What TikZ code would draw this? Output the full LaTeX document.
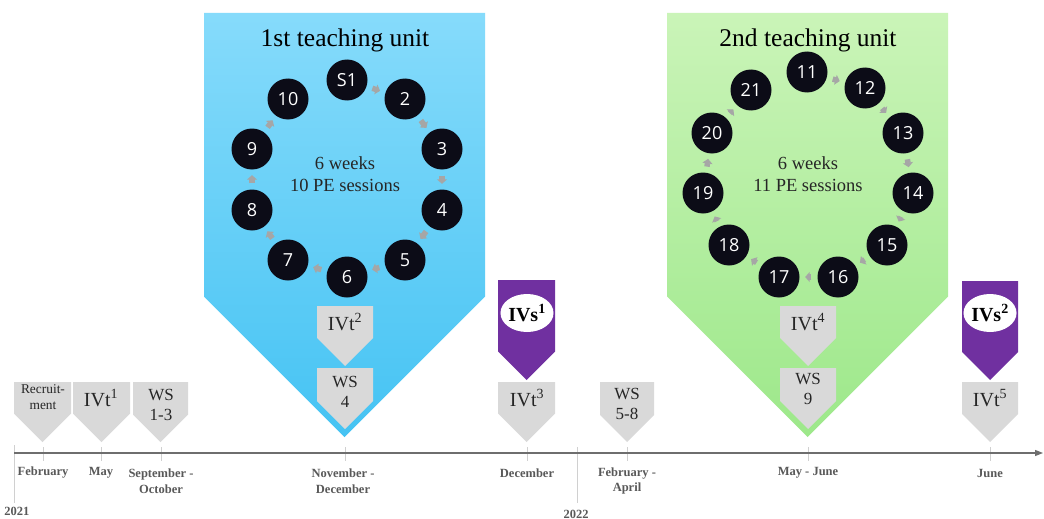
\documentclass[tikz,border=0pt]{standalone}
\usepackage{fontspec}
\setmainfont{Liberation Serif}
\newfontfamily\numfont{Open Sans}
\usetikzlibrary{arrows.meta,shapes.geometric}
\definecolor{blueT}{HTML}{86DBFB}
\definecolor{blueB}{HTML}{45C3F3}
\definecolor{greenT}{HTML}{CAF4B8}
\definecolor{greenB}{HTML}{9DE88A}
\definecolor{circfill}{HTML}{0C0C17}
\definecolor{arrgray}{HTML}{A6A6A6}
\definecolor{gbox}{HTML}{D9D9D9}
\definecolor{boxtext}{HTML}{262626}
\definecolor{labgray}{HTML}{595959}
\definecolor{axisgray}{HTML}{6E6E6E}
\definecolor{tickgray}{HTML}{D0D0D0}
\definecolor{purp}{HTML}{7030A0}
\newcommand\pentshape[5]{%
  \path[#5] (#1,#3) -- (#2,#3) -- (#2,{#4-(#2-#1)/2}) -- ({(#1+#2)/2},#4) -- (#1,{#4-(#2-#1)/2}) -- cycle;}
\begin{document}
\begin{tikzpicture}[x=1pt,y=-1pt,
  num/.style={circle, fill=circfill, minimum size=41pt, inner sep=0pt, text=white, font=\numfont\fontsize{18}{18}\selectfont},
  cyc/.style={draw=arrgray, line width=5.5pt, -{Triangle[length=4.5pt,width=10pt]}, shorten <=6pt, shorten >=5.5pt},
  title/.style={font=\fontsize{25.5}{28}\selectfont, text=black},
  inner/.style={font=\fontsize{18.5}{22}\selectfont, text=boxtext, align=center},
  marktext/.style={text=boxtext, align=center, inner sep=0pt},
  tl/.style={font=\bfseries\fontsize{12.5}{15.5}\selectfont, text=labgray, align=center, inner sep=0pt},
  tickline/.style={draw=tickgray, line width=0.8pt},
  ivs/.style={ellipse, fill=white, minimum width=52pt, minimum height=38pt, inner sep=0pt, font=\bfseries\fontsize{20}{20}\selectfont, text=black}
]
\useasboundingbox[fill=white] (0,0) rectangle (1044,519);

% teaching unit shapes
\pentshape{204}{485}{13}{437}{top color=blueT, bottom color=blueB}
\pentshape{667}{948}{13}{437}{top color=greenT, bottom color=greenB}

\node[title] (t1) at (345,40) {1st teaching unit};
\node[title] (t2) at (808,40) {2nd teaching unit};
\node[inner] (c1) at (345,174) {6 weeks\\10 PE sessions};
\node[inner] (c2) at (808,174) {6 weeks\\11 PE sessions};

% first cycle
\node[num] (b1) at (347,80) {S1};
\node[num] (b2) at (405,99) {2};
\node[num] (b3) at (442,149) {3};
\node[num] (b4) at (442,210) {4};
\node[num] (b5) at (405,260) {5};
\node[num] (b6) at (347,277) {6};
\node[num] (b7) at (288,260) {7};
\node[num] (b8) at (252,210) {8};
\node[num] (b9) at (252,149) {9};
\node[num] (b10) at (288,99) {10};
\foreach \a/\b in {b1/b2,b2/b3,b3/b4,b4/b5,b5/b6,b6/b7,b7/b8,b8/b9,b9/b10}
  \draw[cyc] (\a) -- (\b);

% second cycle
\node[num] (g11) at (807,72) {11};
\node[num] (g12) at (865,88) {12};
\node[num] (g13) at (903,133) {13};
\node[num] (g14) at (913,193) {14};
\node[num] (g15) at (887,245) {15};
\node[num] (g16) at (838,277) {16};
\node[num] (g17) at (779,277) {17};
\node[num] (g18) at (729,245) {18};
\node[num] (g19) at (703,193) {19};
\node[num] (g20) at (712,133) {20};
\node[num] (g21) at (751,90) {21};
\foreach \a/\b in {g11/g12,g12/g13,g13/g14,g14/g15,g15/g16,g16/g17,g17/g18,g18/g19,g19/g20,g20/g21}
  \draw[cyc] (\a) -- (\b);

% gray / purple markers
\pentshape{14}{71}{382}{442}{fill=gbox}
\pentshape{73}{130}{382}{442}{fill=gbox}
\pentshape{133}{188}{382}{442}{fill=gbox}
\pentshape{317}{373}{306}{366}{fill=gbox}
\pentshape{317}{373}{368}{429}{fill=gbox}
\pentshape{498}{555}{280}{380}{fill=purp}
\pentshape{498}{555}{382}{442}{fill=gbox}
\pentshape{600}{654}{382}{442}{fill=gbox}
\pentshape{780}{836}{306}{366}{fill=gbox}
\pentshape{780}{836}{368}{429}{fill=gbox}
\pentshape{962}{1018}{281}{380}{fill=purp}
\pentshape{962}{1018}{382}{442}{fill=gbox}

\node[marktext, font=\fontsize{13.4}{16}\selectfont] (m1) at (43,397) {Recruit-\\ment};
\node[marktext, font=\fontsize{20}{20}\selectfont] (m2) at (101,398) {IVt\textsuperscript{1}};
\node[marktext, font=\fontsize{17}{19.5}\selectfont] (m3) at (161,405) {WS\\1-3};
\node[marktext, font=\fontsize{20}{20}\selectfont] (m4) at (345,322) {IVt\textsuperscript{2}};
\node[marktext, font=\fontsize{17}{19.5}\selectfont] (m5) at (345,392) {WS\\4};
\node[ivs] (m6) at (527,313) {IVs\textsuperscript{1}};
\node[marktext, font=\fontsize{20}{20}\selectfont] (m7) at (527,398) {IVt\textsuperscript{3}};
\node[marktext, font=\fontsize{17}{19.5}\selectfont] (m8) at (627,404) {WS\\5-8};
\node[marktext, font=\fontsize{20}{20}\selectfont] (m9) at (808,322) {IVt\textsuperscript{4}};
\node[marktext, font=\fontsize{17}{19.5}\selectfont] (m10) at (808,389) {WS\\9};
\node[ivs] (m11) at (990,313) {IVs\textsuperscript{2}};
\node[marktext, font=\fontsize{20}{20}\selectfont] (m12) at (990,398) {IVt\textsuperscript{5}};

% timeline
\coordinate (ax0) at (14,453);
\coordinate (ax1) at (1043,453);
\foreach \x in {43,101,161,345,527,627,808,990}
  \draw[tickline] (\x,447) -- (\x,461);
\draw[tickline] (14,445) -- (14,503);
\draw[tickline] (577,447) -- (577,503);
\draw[draw=axisgray, line width=1.1pt, -{Triangle[length=8pt,width=6pt]}] (ax0) -- (ax1);

\node[tl] (l1) at (43,473) {February};
\node[tl] (l2) at (101,473) {May};
\node[tl] (l3) at (161,481) {September -\\October};
\node[tl] (l4) at (343,481) {November -\\December};
\node[tl] (l5) at (527,473) {December};
\node[tl] (l6) at (627,481) {February -\\April};
\node[tl] (l7) at (808,473) {May - June};
\node[tl] (l8) at (990,473) {June};
\node[tl] (y1) at (17,511) {2021};
\node[tl] (y2) at (576,514) {2022};
\end{tikzpicture}
\end{document}
